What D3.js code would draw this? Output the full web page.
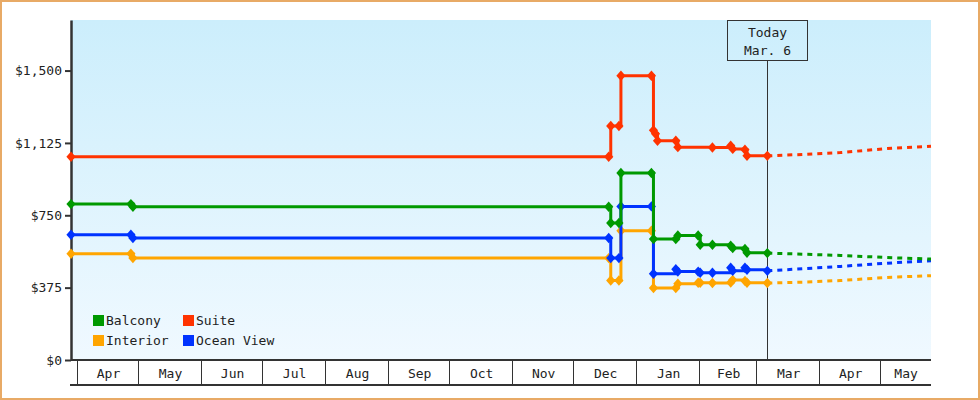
<!DOCTYPE html>
<html><head><meta charset="utf-8">
<script src="https://cdn.jsdelivr.net/npm/d3@7"></script>
<style>
html,body{margin:0;padding:0;background:#fff;}
svg{display:block;}
text{font-family:"DejaVu Sans Mono","Liberation Mono",monospace;font-size:13px;fill:#222;}
</style></head><body>
<svg id="chart" width="980" height="400"></svg>
<script>
// ---------- DATA ----------
const seriesNames  = ["Balcony", "Suite", "Interior", "Ocean View"];
const seriesColors = ["#009900", "#ff3300", "#ffa500", "#0033ff"];

const cabinDates = ["2022-03-28T13","2022-04-27","2022-04-28","2022-12-18","2022-12-19","2022-12-23","2022-12-24",
  "2023-01-08","2023-01-09","2023-01-20","2023-01-21","2023-01-31","2023-02-01","2023-02-07",
  "2023-02-16","2023-02-17","2023-02-23","2023-02-24","2023-03-06"];
const balconyValues   = [808,808,794,794,710,710,969,969,627,627,645,645,597,597,592,580,575,556,554];
const interiorValues  = [551,551,528,528,412,412,670,670,373,373,395,400,400,399,402,415,410,400,399];
const oceanViewValues = [649,649,632,632,528,528,796,796,447,470,458,458,452,452,478,462,478,468,462];

const suiteDates = ["2022-03-28T13","2022-12-18","2022-12-19","2022-12-23","2022-12-24","2023-01-08","2023-01-09",
  "2023-01-10","2023-01-11","2023-01-20","2023-01-21","2023-02-07","2023-02-16","2023-02-17",
  "2023-02-23","2023-02-24","2023-03-06"];
const suiteValues = [1053,1053,1213,1213,1473,1473,1190,1172,1136,1136,1103,1101,1110,1094,1090,1058,1058];

const projectionDates = ["2023-03-06","2023-03-25","2023-04-11","2023-05-04","2023-05-25T12"];
const balconyProjection   = [554,548,542,531,523];
const suiteProjection     = [1058,1066,1075,1096,1108];
const interiorProjection  = [399,404,412,428,437];
const oceanViewProjection = [462,474,485,502,514];

const yTickValues = [0, 375, 750, 1125, 1500];
const xDomainDates = ["2022-03-28T13", "2023-05-25T12"];
const todayDate = "2023-03-06";
const todayLabel = ["Today", "Mar. 6"];
const yMax = 1762;

// ---------- HELPERS ----------
const pDay = d3.timeParse("%Y-%m-%d"), pHour = d3.timeParse("%Y-%m-%dT%H");
const parse = s => pDay(s) || pHour(s);

const svg = d3.select("#chart");
const L = 71, R = 931, T = 20, B = 360;

const x = d3.scaleTime().domain(xDomainDates.map(parse)).range([L, R]);
const y = d3.scaleLinear().domain([0, yMax]).range([B, T]);

// border
svg.append("rect").attr("x",1).attr("y",1).attr("width",978).attr("height",398)
  .attr("fill","#fff").attr("stroke","#e8aa66").attr("stroke-width",2);

// gradient
const defs = svg.append("defs");
const grad = defs.append("linearGradient").attr("id","bg").attr("x1",0).attr("y1",0).attr("x2",0).attr("y2",1);
grad.append("stop").attr("offset","0%").attr("stop-color","#cceefc");
grad.append("stop").attr("offset","100%").attr("stop-color","#f0f9ff");
svg.append("rect").attr("x",L).attr("y",T).attr("width",R-L).attr("height",B-T).attr("fill","url(#bg)");

// x month band
const months = d3.timeMonth.range(d3.timeMonth.ceil(x.domain()[0]), x.domain()[1]);
const band = svg.append("g");
band.selectAll("line.sep").data(months).join("line").attr("class","sep")
  .attr("x1",d=>Math.round(x(d))-0.5).attr("x2",d=>Math.round(x(d))-0.5)
  .attr("y1",B).attr("y2",385).attr("stroke","#333").attr("stroke-width",1);
band.append("line").attr("x1",70).attr("x2",R).attr("y1",385).attr("y2",385).attr("stroke","#333").attr("stroke-width",2);
const monthFmt = d3.timeFormat("%b");
band.selectAll("text").data(months).join("text")
  .attr("x", d => { const a = x(d), b = Math.min(x(d3.timeMonth.offset(d,1)), R); return (a+b)/2; })
  .attr("y", 378).attr("text-anchor","middle").text(monthFmt);

// axis lines
svg.append("line").attr("x1",L).attr("x2",R).attr("y1",B).attr("y2",B).attr("stroke","#333").attr("stroke-width",2);
const yAxis = svg.append("g").attr("transform",`translate(${L},0)`)
  .call(d3.axisLeft(y).tickValues(yTickValues).tickSize(6).tickSizeOuter(0).tickPadding(3).tickFormat(d3.format("$,")));
yAxis.select(".domain").attr("stroke","#333").attr("stroke-width",2.5);
yAxis.selectAll(".tick line").attr("stroke","#333").attr("stroke-width",2);
yAxis.selectAll(".tick text").attr("fill","#222").style("font-family",'"DejaVu Sans Mono",monospace').style("font-size","13px");

// today marker
const tx = Math.round(x(parse(todayDate))) + 0.5;
svg.append("line").attr("x1",tx).attr("x2",tx).attr("y1",61).attr("y2",B).attr("stroke","#333").attr("stroke-width",1);
svg.append("rect").attr("x",tx-40).attr("y",20.5).attr("width",80).attr("height",40)
  .attr("fill","none").attr("stroke","#333").attr("stroke-width",1);
svg.append("text").attr("x",tx).attr("y",37).attr("text-anchor","middle").text(todayLabel[0]);
svg.append("text").attr("x",tx).attr("y",55).attr("text-anchor","middle").text(todayLabel[1]);

// series
const series = [
  {name:"Interior",  dates:cabinDates, values:interiorValues,  proj:interiorProjection},
  {name:"Ocean View",dates:cabinDates, values:oceanViewValues, proj:oceanViewProjection},
  {name:"Balcony",   dates:cabinDates, values:balconyValues,   proj:balconyProjection},
  {name:"Suite",     dates:suiteDates, values:suiteValues,     proj:suiteProjection}
];
const colorOf = n => seriesColors[seriesNames.indexOf(n)];
const stepLine = d3.line().x(d=>x(d[0])).y(d=>y(d[1])).curve(d3.curveStepAfter);
const projLine = d3.line().x(d=>x(d[0])).y(d=>y(d[1]));
const diamond = "M0,-5.2L4.6,0L0,5.2L-4.6,0Z";

series.forEach(s => {
  const c = colorOf(s.name);
  const pts = s.dates.map((d,i)=>[parse(d), s.values[i]]);
  const proj = projectionDates.map((d,i)=>[parse(d), s.proj[i]]);
  svg.append("path").attr("d", projLine(proj)).attr("fill","none").attr("stroke",c)
    .attr("stroke-width",3).attr("stroke-dasharray","5,5");
  svg.append("path").attr("d", stepLine(pts)).attr("fill","none").attr("stroke",c).attr("stroke-width",3);
  svg.append("g").selectAll("path").data(pts).join("path")
    .attr("transform", d=>`translate(${x(d[0])},${y(d[1])})`).attr("d", diamond).attr("fill", c);
});

// legend
const legendOrder = [["Balcony",0,0],["Suite",1,0],["Interior",0,1],["Ocean View",1,1]];
const lg = svg.append("g");
legendOrder.forEach(([n,cx,cy]) => {
  const gx = 93 + cx*90, gy = 315 + cy*20;
  lg.append("rect").attr("x",gx).attr("y",gy).attr("width",11).attr("height",11).attr("fill",colorOf(n));
  lg.append("text").attr("x",gx+13).attr("y",gy+10).text(n);
});
</script>
</body></html>
